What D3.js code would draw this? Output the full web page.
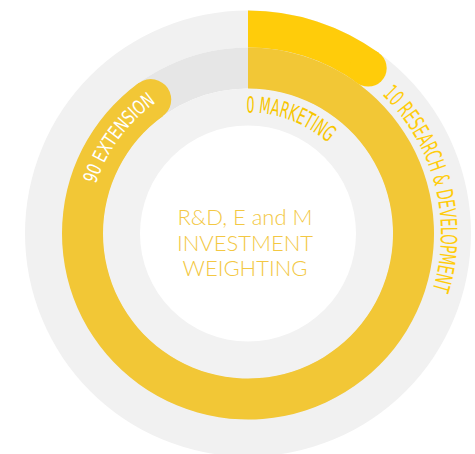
<!DOCTYPE html>
<html>
<head>
<meta charset="utf-8">
<script src="https://cdn.jsdelivr.net/npm/d3@7"></script>
<style>
  html, body { margin: 0; padding: 0; background: #fff; }
  svg { display: block; }
</style>
</head>
<body>
<svg id="chart" width="475" height="454"></svg>
<script>
// ---- data ----
const categories = ["Research & Development", "Extension", "Marketing"];
const values = [10, 90, 0];
const labelTexts = ["10 RESEARCH & DEVELOPMENT", "90 EXTENSION", "0 MARKETING"];
const titleLines = ["R&D, E and M", "INVESTMENT", "WEIGHTING"];

// ---- layout / style ----
const W = 475, H = 454, cx = 248, cy = 233.5;
const ringEdges = [223, 186, 145, 108];          // outer..inner radii
const trackColors = ["#F1F1F1", "#E6E6E6", "#F2F2F2"];
const arcColors = ["#FFCC0A", "#F2C736", "#F2C736"];
const labelColors = ["#FFCC0A", "#FFFFFF", "#F7C600"];
const labelRadius = [193, 160, 121];
const labelStartDeg = [44, -72, -0.8];
const labelLength = [212, 103, 89];
const labelSize = [22.5, 19.5, 22.5];

const svg = d3.select("#chart");
const g = svg.append("g").attr("transform", `translate(${cx},${cy})`);

const angle = d3.scaleLinear().domain([0, 100]).range([0, 2 * Math.PI]);
const rOuter = d3.scaleOrdinal().domain(categories).range(ringEdges.slice(0, 3));
const rInner = d3.scaleOrdinal().domain(categories).range(ringEdges.slice(1, 4));

const arc = d3.arc();

// tracks
g.selectAll("path.track").data(categories).join("path")
  .attr("class", "track")
  .attr("fill", (d, i) => trackColors[i])
  .attr("d", d => arc({innerRadius: rInner(d), outerRadius: rOuter(d), startAngle: 0, endAngle: 2 * Math.PI}));

// value arcs (flat start, rounded end)
const dataRows = categories.map((c, i) => ({cat: c, value: values[i], i}));
const shown = dataRows.filter(d => d.value > 0);
g.selectAll("path.val").data(shown).join("path")
  .attr("class", "val")
  .attr("fill", d => arcColors[d.i])
  .attr("d", d => arc({innerRadius: rInner(d.cat), outerRadius: rOuter(d.cat), startAngle: 0, endAngle: angle(d.value)}));
g.selectAll("circle.cap").data(shown).join("circle")
  .attr("class", "cap")
  .attr("fill", d => arcColors[d.i])
  .attr("r", d => (rOuter(d.cat) - rInner(d.cat)) / 2)
  .attr("cx", d => ((rOuter(d.cat) + rInner(d.cat)) / 2) * Math.sin(angle(d.value)))
  .attr("cy", d => -((rOuter(d.cat) + rInner(d.cat)) / 2) * Math.cos(angle(d.value)));

// label paths
const defs = svg.append("defs");
dataRows.forEach(d => {
  const a0 = labelStartDeg[d.i] * Math.PI / 180 - Math.PI / 2;
  const p = d3.path();
  p.arc(0, 0, labelRadius[d.i], a0, a0 + Math.PI * 1.2, false);
  defs.append("path").attr("id", "lp" + d.i).attr("d", p.toString());
});

g.selectAll("text.lbl").data(dataRows).join("text")
  .attr("class", "lbl")
  .attr("font-family", "'DejaVu Sans Condensed', 'DejaVu Sans', sans-serif")
  .attr("font-stretch", "condensed")
  .attr("font-size", d => labelSize[d.i])
  .attr("fill", d => labelColors[d.i])
  .append("textPath")
  .attr("href", d => "#lp" + d.i)
  .attr("textLength", d => labelLength[d.i])
  .attr("lengthAdjust", "spacingAndGlyphs")
  .text(d => labelTexts[d.i]);

// centre title
const title = g.append("text")
  .attr("font-family", "Lato, 'Open Sans', sans-serif")
  .attr("font-weight", 300)
  .attr("font-size", 22)
  .attr("fill", "#F3C843")
  .attr("text-anchor", "middle");
title.selectAll("tspan").data(titleLines).join("tspan")
  .attr("x", -3)
  .attr("y", (d, i) => -8.5 + i * 25.7)
  .text(d => d);
</script>
</body>
</html>
